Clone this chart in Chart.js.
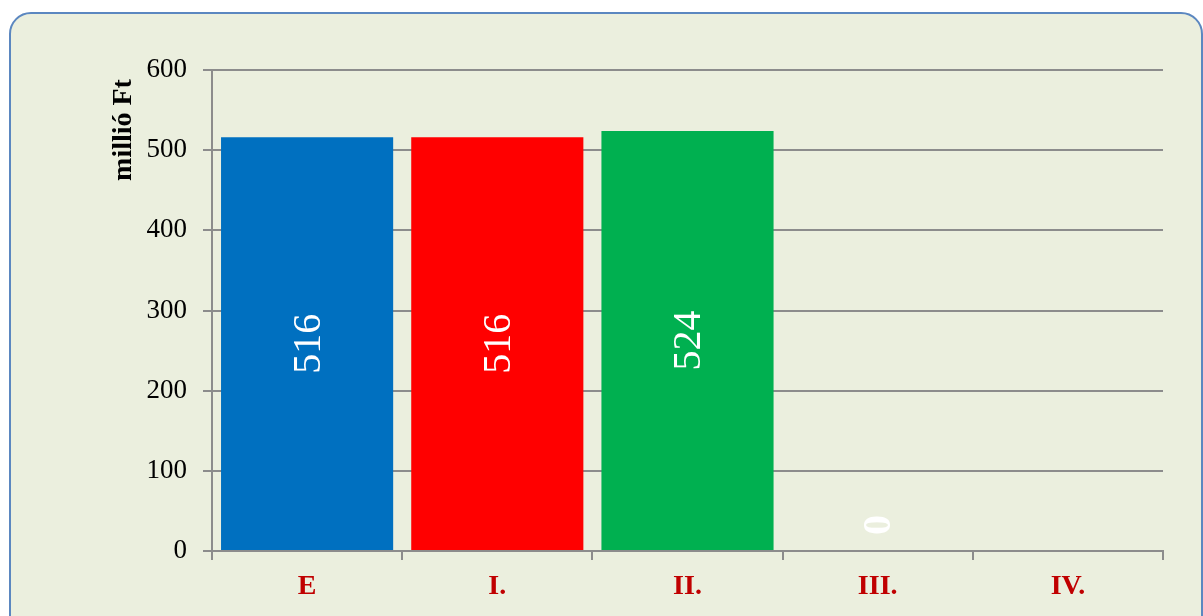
<!DOCTYPE html>
<html>
<head>
<meta charset="utf-8">
<script src="https://cdn.jsdelivr.net/npm/chart.js@4"></script>
<style>
  html, body { margin: 0; padding: 0; background: #fff; }
  .frame {
    position: absolute; left: 9px; top: 12px; width: 1190px; height: 640px;
    background: #EBEFDE; border: 2px solid #5B87C0; border-radius: 22px;
  }
  .wrap { position: absolute; left: 0; top: 0; width: 1203px; height: 616px; }
</style>
</head>
<body>
<div class="frame"></div>
<div class="wrap"><canvas class="my-chart" width="1203" height="616"></canvas></div>
<script>
const categories = ['E', 'I.', 'II.', 'III.', 'IV.'];
const values = [516, 516, 524, 0, null];
const barColors = ['#0070C0', '#FF0000', '#00B050', '#00B050', '#00B050'];
const yTicks = [0, 100, 200, 300, 400, 500, 600];
const yTitle = 'millió Ft';

const serif = '"Liberation Serif", "DejaVu Serif", serif';
const gridGray = '#8C8C8C';

// white rotated value inside each bar
const valueLabels = {
  id: 'valueLabels',
  afterDatasetsDraw(chart) {
    const ctx = chart.ctx;
    const meta = chart.getDatasetMeta(0);
    ctx.save();
    ctx.fillStyle = '#FFFFFF';
    ctx.textBaseline = 'middle';
    meta.data.forEach((bar, i) => {
      const v = values[i];
      if (v === null || v === undefined) return;
      const text = String(v);
      const h = bar.base - bar.y;
      ctx.font = (v === 0 ? 'bold ' : '') + '40px ' + serif;
      const w = ctx.measureText(text).width;
      let cy = bar.y + h / 2;
      if (h < w + 20) cy = bar.base - 16 - w / 2;
      ctx.save();
      ctx.translate(bar.x, cy);
      ctx.rotate(-Math.PI / 2);
      ctx.textAlign = 'center';
      ctx.fillText(text, 0, 2);
      ctx.restore();
    });
    ctx.restore();
  }
};

// axis title sits near the top, like the original
const axisTitle = {
  id: 'axisTitle',
  afterDraw(chart) {
    const ctx = chart.ctx;
    ctx.save();
    ctx.fillStyle = '#000000';
    ctx.font = 'bold 28px ' + serif;
    ctx.translate(124, chart.chartArea.top + 60);
    ctx.rotate(-Math.PI / 2);
    ctx.textAlign = 'center';
    ctx.textBaseline = 'middle';
    ctx.fillText(yTitle, 0, 0);
    ctx.restore();
  }
};

new Chart(document.querySelector('.my-chart'), {
  type: 'bar',
  data: {
    labels: categories,
    datasets: [{
      data: values,
      backgroundColor: barColors,
      borderWidth: 0,
      barPercentage: 0.905,
      categoryPercentage: 1
    }]
  },
  options: {
    responsive: false,
    animation: false,
    devicePixelRatio: 1,
    layout: { padding: { top: 70, right: 40, left: 0, bottom: 0 } },
    plugins: { legend: { display: false }, tooltip: { enabled: false } },
    scales: {
      x: {
        afterFit(scale) { scale.height = 65; },
        grid: { offset: true, drawOnChartArea: false, drawTicks: true, tickLength: 9, color: gridGray, lineWidth: 2 },
        border: { display: true, color: gridGray, width: 2 },
        ticks: { color: '#C00000', font: { family: serif, size: 28, weight: 'bold' }, padding: 10 }
      },
      y: {
        min: 0,
        max: 600,
        afterFit(scale) { scale.width = 212; },
        afterBuildTicks(scale) { scale.ticks = yTicks.map(v => ({ value: v })); },
        grid: { color: gridGray, lineWidth: 2, tickLength: 9 },
        border: { display: true, color: gridGray, width: 2 },
        ticks: { color: '#000000', font: { family: serif, size: 27 }, padding: 16 }
      }
    }
  },
  plugins: [valueLabels, axisTitle]
});
</script>
</body>
</html>
